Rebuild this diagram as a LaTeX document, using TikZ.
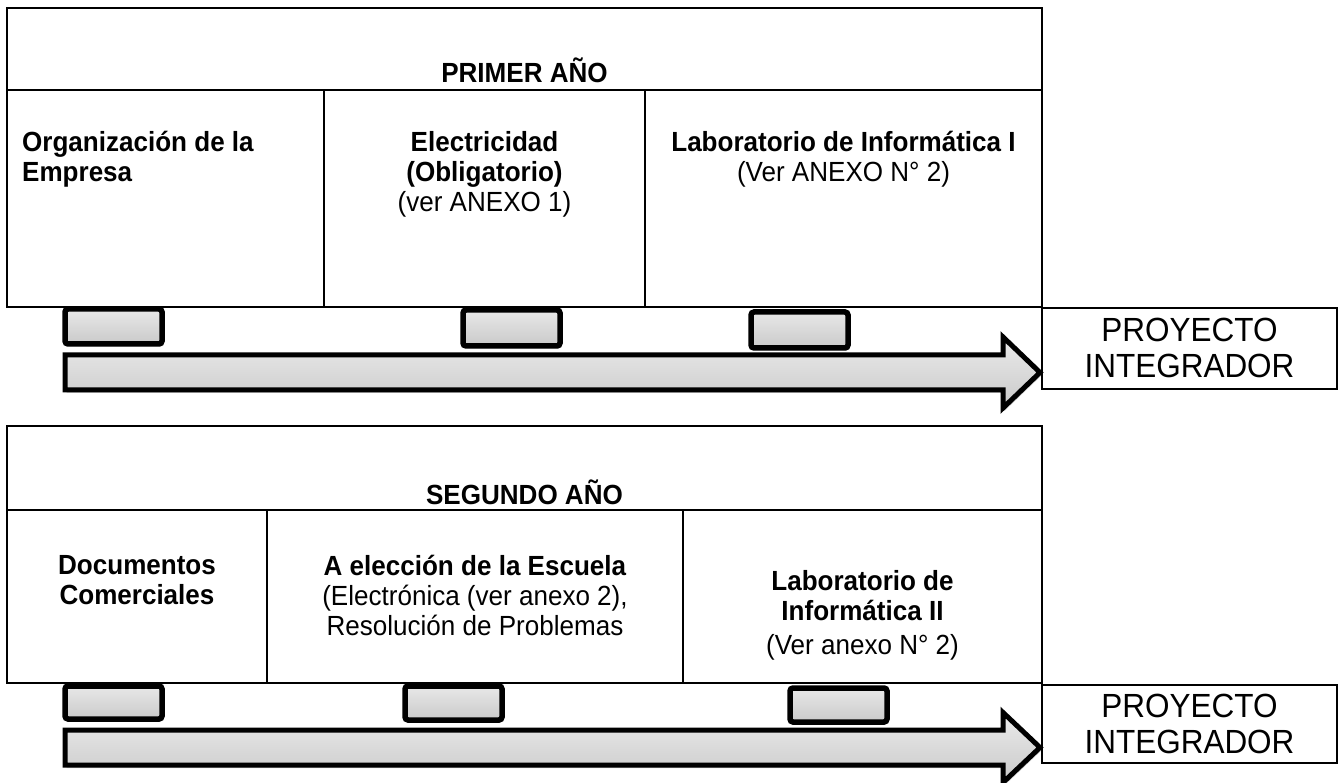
\documentclass[tikz,border=0pt]{standalone}
\usepackage{fontspec}
\setmainfont{Liberation Sans}
\newfontfamily\bodyfont{Liberation Sans}[FakeStretch=0.94]
\newfontfamily\projfont{Liberation Sans}[FakeStretch=0.94]
\usetikzlibrary{shadows}
\begin{document}
\begin{tikzpicture}[x=1pt,y=-1pt,
  tbl/.style={draw=black,line width=2.2pt},
  txt/.style={inner sep=0pt,align=center,font=\bodyfont\fontsize{27.7}{30}\selectfont},
  ltxt/.style={inner sep=0pt,align=left,font=\bodyfont\fontsize{27.7}{30}\selectfont},
  ptxt/.style={inner sep=0pt,align=center,font=\projfont\fontsize{33.5}{36}\selectfont},
  chip/.style={draw=black,line width=5.5pt,rounded corners=3pt,top color=gray!18,bottom color=gray!42,
     drop shadow={opacity=0.35,shadow xshift=1.5pt,shadow yshift=-2.5pt}},
  bigarrow/.style={draw=black,line width=5pt,line join=miter,top color=gray!16,bottom color=gray!42,
     drop shadow={opacity=0.35,shadow xshift=1.5pt,shadow yshift=-3pt}},
  pbox/.style={draw=black,line width=2.2pt}]
\useasboundingbox (0,0) rectangle (1339,783);
\fill[white] (0,0) rectangle (1339,783);

% ---------- first year table ----------
\draw[tbl] (7,8) rectangle (1042,307);
\draw[tbl] (7,90) -- (1042,90);
\draw[tbl] (324,90) -- (324,307);
\draw[tbl] (645,90) -- (645,307);
\node[txt] (t1) at (524.5,70) {\textbf{PRIMER AÑO}};
\node[ltxt,anchor=north west] (c11) at (22,131) {\textbf{Organización de la}\\\textbf{Empresa}};
\node[txt,anchor=north] (c12) at (484.5,131) {\textbf{Electricidad}\\\textbf{(Obligatorio)}\\(ver ANEXO 1)};
\node[txt,anchor=north] (c13) at (843.5,131) {\textbf{Laboratorio de Informática I}\\(Ver ANEXO N° 2)};

% ---------- first arrow ----------
\path[chip] (65,309) rectangle (162,344);
\path[chip] (463,310) rectangle (560,346);
\path[chip] (751,312) rectangle (848,348);
\path[bigarrow] (65,355) -- (1003,355) -- (1003,337) -- (1040,372.5) -- (1003,408) -- (1003,390) -- (65,390) -- cycle;
\draw[pbox] (1042,308) rectangle (1337,389);
\node[ptxt] (p1) at (1189.5,348) {PROYECTO\\INTEGRADOR};

% ---------- second year table ----------
\draw[tbl] (7,426) rectangle (1042,683);
\draw[tbl] (7,510) -- (1042,510);
\draw[tbl] (267,510) -- (267,683);
\draw[tbl] (683,510) -- (683,683);
\node[txt] (t2) at (524.5,492) {\textbf{SEGUNDO AÑO}};
\node[txt,anchor=north] (c21) at (137,555) {\textbf{Documentos}\\\textbf{Comerciales}};
\node[txt,anchor=north] (c22) at (475,555) {\textbf{A elección de la Escuela}\\(Electrónica (ver anexo 2),\\Resolución de Problemas};
\node[txt,anchor=north] (c23) at (862.5,570) {\textbf{Laboratorio de}\\\textbf{Informática II}\\[4pt](Ver anexo N° 2)};

% ---------- second arrow ----------
\path[chip] (65,686) rectangle (162,719);
\path[chip] (405,686) rectangle (502,720);
\path[chip] (790,688) rectangle (887,722);
\path[bigarrow] (65,730) -- (1003,730) -- (1003,712.5) -- (1040,747.5) -- (1003,782.5) -- (1003,765) -- (65,765) -- cycle;
\draw[pbox] (1042,685) rectangle (1337,763);
\node[ptxt] (p2) at (1189.5,724) {PROYECTO\\INTEGRADOR};
\end{tikzpicture}
\end{document}
